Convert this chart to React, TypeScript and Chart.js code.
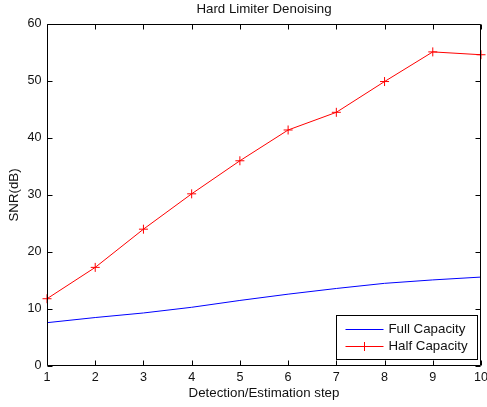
import React, { useEffect, useRef } from "react";
import { Chart, registerables } from "chart.js";

Chart.register(...registerables);

const steps = [1, 2, 3, 4, 5, 6, 7, 8, 9, 10];
const fullCapacity = [7.6, 8.5, 9.3, 10.3, 11.5, 12.6, 13.6, 14.5, 15.1, 15.6];
const halfCapacity = [11.8, 17.3, 24.0, 30.2, 36.0, 41.4, 44.5, 49.9, 55.1, 54.6];
const seriesLabels = ["Full Capacity", "Half Capacity"];
const titleText = "Hard Limiter Denoising";
const xTitle = "Detection/Estimation step";
const yTitle = "SNR(dB)";

const FONT = "Arial, 'Liberation Sans', Helvetica, sans-serif";
const TEXT_SIZE = 13.3;
const TICK_SIZE = 12.6;

const framePlugin = {
  id: "frame",
  afterDatasetsDraw(chart: any) {
    const { ctx, chartArea: a, scales } = chart;
    ctx.save();
    ctx.strokeStyle = "#000";
    ctx.lineWidth = 1;
    const L = Math.round(a.left) + 0.5;
    const R = Math.round(a.right) - 0.5;
    const T = Math.round(a.top) + 0.5;
    const B = Math.round(a.bottom) - 0.5;
    ctx.beginPath();
    ctx.rect(L, T, R - L, B - T);
    ctx.stroke();
    const tl = 5;
    ctx.beginPath();
    scales.x.ticks.forEach((t: any) => {
      const px = Math.round(scales.x.getPixelForValue(t.value)) + 0.5;
      ctx.moveTo(px, B);
      ctx.lineTo(px, B - tl);
      ctx.moveTo(px, T);
      ctx.lineTo(px, T + tl);
    });
    scales.y.ticks.forEach((t: any) => {
      const py = Math.round(scales.y.getPixelForValue(t.value)) + 0.5;
      ctx.moveTo(L, py);
      ctx.lineTo(L + tl, py);
      ctx.moveTo(R, py);
      ctx.lineTo(R - tl, py);
    });
    ctx.stroke();
    ctx.restore();
  },
  afterDraw(chart: any) {
    const { ctx, chartArea: a } = chart;
    const bw = 141;
    const bh = 44;
    const bx = Math.round(a.right) - 4 - bw + 0.5;
    const by = Math.round(a.bottom) - 7 - bh + 0.5;
    ctx.save();
    ctx.fillStyle = "#fff";
    ctx.fillRect(bx, by, bw, bh);
    ctx.strokeStyle = "#000";
    ctx.lineWidth = 1;
    ctx.strokeRect(bx, by, bw, bh);
    const rows = [by + 13, by + 30.5];
    chart.data.datasets.forEach((ds: any, i: number) => {
      const y = Math.round(rows[i]) + 0.5;
      ctx.strokeStyle = ds.borderColor;
      ctx.lineWidth = 1;
      ctx.beginPath();
      ctx.moveTo(bx + 9, y);
      ctx.lineTo(bx + 47, y);
      ctx.stroke();
      if (ds.pointRadius > 0) {
        const cx = bx + 28;
        const r = 4.5;
        ctx.beginPath();
        ctx.moveTo(cx - r, y);
        ctx.lineTo(cx + r, y);
        ctx.moveTo(cx, y - r);
        ctx.lineTo(cx, y + r);
        ctx.stroke();
      }
      ctx.fillStyle = "#111";
      ctx.font = `${TEXT_SIZE}px ${FONT}`;
      ctx.textBaseline = "middle";
      ctx.textAlign = "left";
      ctx.fillText(ds.label, bx + 52, y);
    });
    ctx.restore();
  },
};

export default function App() {
  const ref = useRef<HTMLCanvasElement>(null);
  useEffect(() => {
    if (!ref.current) return;
    const chart = new Chart(ref.current, {
      type: "line",
      data: {
        datasets: [
          {
            label: seriesLabels[0],
            data: steps.map((s, i) => ({ x: s, y: fullCapacity[i] })),
            borderColor: "#0000ff",
            backgroundColor: "#0000ff",
            borderWidth: 1,
            pointRadius: 0,
            tension: 0,
            clip: false,
          },
          {
            label: seriesLabels[1],
            data: steps.map((s, i) => ({ x: s, y: halfCapacity[i] })),
            borderColor: "#ff0000",
            backgroundColor: "#ff0000",
            borderWidth: 1,
            pointStyle: "cross",
            pointRadius: 4.5,
            pointBorderWidth: 1,
            pointHoverRadius: 4.5,
            tension: 0,
            clip: false,
          },
        ],
      } as any,
      options: {
        responsive: false,
        animation: false,
        events: [],
        layout: { padding: { left: 0, right: 6, top: 0, bottom: 0 } },
        plugins: {
          legend: { display: false },
          tooltip: { enabled: false },
          title: {
            display: true,
            text: titleText,
            fullSize: false,
            color: "#111",
            font: { family: FONT, size: TEXT_SIZE, weight: "normal" },
            padding: { top: 1.5, bottom: 6.5 },
          },
        },
        scales: {
          x: {
            type: "linear",
            min: 1,
            max: 10,
            grid: { display: false, drawTicks: false },
            border: { display: false },
            ticks: {
              stepSize: 1,
              autoSkip: false,
              maxRotation: 0,
              padding: 3.5,
              color: "#111",
              font: { family: FONT, size: TICK_SIZE },
            },
            title: {
              display: true,
              text: xTitle,
              color: "#111",
              font: { family: FONT, size: TEXT_SIZE },
              padding: { top: 0, bottom: 6 },
            },
            afterFit(scale: any) {
              scale.height = 41;
              scale.paddingLeft = 0;
              scale.paddingRight = 0;
            },
          },
          y: {
            type: "linear",
            min: 0,
            max: 60,
            grid: { display: false, drawTicks: false },
            border: { display: false },
            ticks: {
              stepSize: 10,
              padding: 5.5,
              color: "#111",
              font: { family: FONT, size: TICK_SIZE },
            },
            title: {
              display: true,
              text: yTitle,
              color: "#111",
              font: { family: FONT, size: TEXT_SIZE },
              padding: { top: 6.5, bottom: 0 },
            },
            afterFit(scale: any) {
              scale.width = 47;
              scale.paddingTop = 0;
              scale.paddingBottom = 0;
            },
          },
        },
      } as any,
      plugins: [framePlugin],
    });
    return () => chart.destroy();
  }, []);
  return (
    <div style={{ position: "fixed", left: 0, top: 0, width: 487, height: 407, background: "#fff" }}>
      <canvas ref={ref} width={487} height={407} style={{ display: "block" }} />
    </div>
  );
}
